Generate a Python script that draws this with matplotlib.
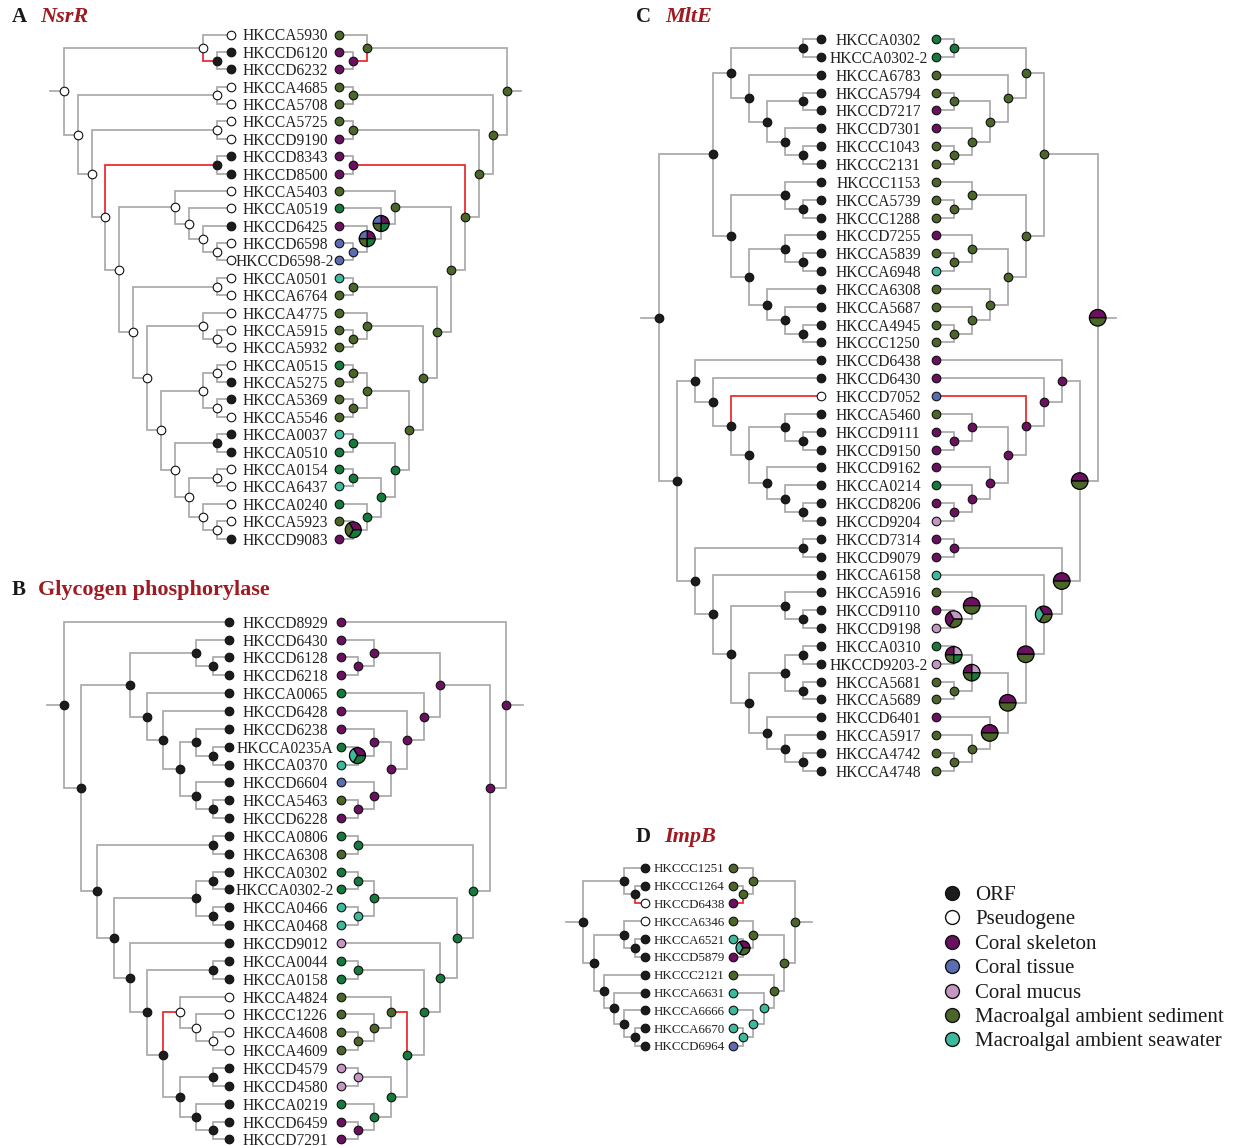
import matplotlib
matplotlib.use('Agg')
import matplotlib.pyplot as plt
from matplotlib.patches import Wedge

# ---------------- data ----------------
HAB_COLORS = {'S': '#6b0f5f', 'T': '#5c6cb2', 'M': '#c596c4',
              'D': '#4b6629', 'W': '#3dba9c', 'G': '#157a3b'}
ORF_COLORS = {'f': '#1c1c1c', 'o': 'white'}

LEGEND_LABELS = ['ORF', 'Pseudogene', 'Coral skeleton', 'Coral tissue',
                 'Coral mucus', 'Macroalgal ambient sediment',
                 'Macroalgal ambient seawater']
LEGEND_COLORS = ['#1c1c1c', 'white', '#6b0f5f', '#5c6cb2', '#c596c4',
                 '#4b6629', '#3dba9c']

# Panel A: NsrR
A_LEAVES = ['HKCCA5930', 'HKCCD6120', 'HKCCD6232', 'HKCCA4685', 'HKCCA5708',
            'HKCCA5725', 'HKCCD9190', 'HKCCD8343', 'HKCCD8500', 'HKCCA5403',
            'HKCCA0519', 'HKCCD6425', 'HKCCD6598', 'HKCCD6598-2', 'HKCCA0501',
            'HKCCA6764', 'HKCCA4775', 'HKCCA5915', 'HKCCA5932', 'HKCCA0515',
            'HKCCA5275', 'HKCCA5369', 'HKCCA5546', 'HKCCA0037', 'HKCCA0510',
            'HKCCA0154', 'HKCCA6437', 'HKCCA0240', 'HKCCA5923', 'HKCCD9083']
A_ORF = list('offooooffoofooo' + 'oooooffoffoooof')
A_HAB = ['D', 'S', 'S', 'D', 'D', 'D', 'S', 'S', 'S', 'D', 'G', 'S', 'T', 'T', 'W',
         'D', 'D', 'D', 'D', 'G', 'D', 'D', 'D', 'W', 'G', 'G', 'W', 'G', 'D', 'S']
A_TREE = ("((0,(1,2)*fS)oD,((3,4)oD,((5,6)oD,((7,8)*fS,((9,(10,(11,(12,13)oT)"
          "oS+T+D+G)oS+T+D+G)oD,((14,15)oD,((16,(17,18)oD)oD,(((19,20)oD,(21,22)oD)oD,"
          "((23,24)fG,((25,26)oG,(27,(28,29)oS+D+G)oG)oG)oG)oD)oD)oD)oD)oD)oD)oD)oD")

# Panel B: Glycogen phosphorylase
B_LEAVES = ['HKCCD8929', 'HKCCD6430', 'HKCCD6128', 'HKCCD6218', 'HKCCA0065',
            'HKCCD6428', 'HKCCD6238', 'HKCCA0235A', 'HKCCA0370', 'HKCCD6604',
            'HKCCA5463', 'HKCCD6228', 'HKCCA0806', 'HKCCA6308', 'HKCCA0302',
            'HKCCA0302-2', 'HKCCA0466', 'HKCCA0468', 'HKCCD9012', 'HKCCA0044',
            'HKCCA0158', 'HKCCA4824', 'HKCCC1226', 'HKCCA4608', 'HKCCA4609',
            'HKCCD4579', 'HKCCD4580', 'HKCCA0219', 'HKCCD6459', 'HKCCD7291']
B_ORF = list('fffffffffffffffffffff' + 'oooo' + 'fffff')
B_HAB = ['S', 'S', 'S', 'S', 'G', 'S', 'S', 'G', 'W', 'T', 'D', 'S', 'G', 'D', 'G',
         'G', 'W', 'W', 'M', 'G', 'G', 'D', 'D', 'D', 'D', 'M', 'M', 'G', 'S', 'S']
B_TREE = ("(0,(((1,(2,3)fS)fS,(4,(5,((6,(7,8)fS+W+G)fS,(9,(10,11)fS)fS)fS)fS)fS)fS,"
          "((12,13)fG,(((14,15)fG,(16,17)fW)fG,(18,((19,20)fG,((21,(22,(23,24)oD)oD)*oD,"
          "((25,26)fM,(27,(28,29)fS)fG)fG)fG)fG)fG)fG)fG)fS)fS")

# Panel C: MltE
C_LEAVES = ['HKCCA0302', 'HKCCA0302-2', 'HKCCA6783', 'HKCCA5794', 'HKCCD7217',
            'HKCCD7301', 'HKCCC1043', 'HKCCC2131', 'HKCCC1153', 'HKCCA5739',
            'HKCCC1288', 'HKCCD7255', 'HKCCA5839', 'HKCCA6948', 'HKCCA6308',
            'HKCCA5687', 'HKCCA4945', 'HKCCC1250', 'HKCCD6438', 'HKCCD6430',
            'HKCCD7052', 'HKCCA5460', 'HKCCD9111', 'HKCCD9150', 'HKCCD9162',
            'HKCCA0214', 'HKCCD8206', 'HKCCD9204', 'HKCCD7314', 'HKCCD9079',
            'HKCCA6158', 'HKCCA5916', 'HKCCD9110', 'HKCCD9198', 'HKCCA0310',
            'HKCCD9203-2', 'HKCCA5681', 'HKCCA5689', 'HKCCD6401', 'HKCCA5917',
            'HKCCA4742', 'HKCCA4748']
C_ORF = list('f' * 20 + 'o' + 'f' * 21)
C_HAB = ['G', 'G', 'D', 'D', 'S', 'S', 'D', 'D', 'D', 'D', 'D', 'S', 'D', 'W',
         'D', 'D', 'D', 'D', 'S', 'S', 'T', 'D', 'S', 'S', 'S', 'G', 'S', 'M',
         'S', 'S', 'W', 'D', 'S', 'M', 'G', 'M', 'D', 'D', 'S', 'D', 'D', 'D']
C_TREE = ("((((0,1)fG,(2,((3,4)fD,(5,(6,7)fD)fD)fD)fD)fD,((8,(9,10)fD)fD,((11,(12,13)fD)fD,"
          "(14,(15,(16,17)fD)fD)fD)fD)fD)fD,((18,(19,(20*,((21,(22,23)fS)fS,(24,(25,(26,27)fS)"
          "fS)fS)fS)fS)fS)fS,((28,29)fS,(30,((31,(32,33)fM+S+D)fS+D,(((34,35)fM+S+D+G,(36,37)fD)"
          "fM+S+D+G,(38,(39,(40,41)fD)fD)fS+D)fS+D)fS+D)fS+W+D)fS+D)fS+D)fS+D")

# Panel D: ImpB
D_LEAVES = ['HKCCC1251', 'HKCCC1264', 'HKCCD6438', 'HKCCA6346', 'HKCCA6521',
            'HKCCD5879', 'HKCCC2121', 'HKCCA6631', 'HKCCA6666', 'HKCCA6670',
            'HKCCD6964']
D_ORF = ['f', 'f', 'o', 'o', 'f', 'f', 'f', 'f', 'f', 'f', 'f']
D_HAB = ['D', 'D', 'S', 'D', 'W', 'S', 'D', 'W', 'W', 'W', 'T']
D_TREE = "((0,(1,2*)fD)fD,((3,(4,5)fS+W+D)fD,(6,(7,(8,(9,10)fW)fW)fW)fD)fD)fD"

TITLES = [('A', 'NsrR', True), ('B', 'Glycogen phosphorylase', False),
          ('C', 'MltE', True), ('D', 'ImpB', True)]

# ---------------- helpers ----------------
FONT = 'Liberation Serif'
GRAY = '#a9a9a9'
RED = '#e8262c'


def parse(s):
    pos = 0

    def label():
        nonlocal pos
        st = pos
        while pos < len(s) and s[pos] not in ',()':
            pos += 1
        return s[st:pos]

    def node():
        nonlocal pos
        if s[pos] == '(':
            pos += 1
            kids = [node()]
            while s[pos] == ',':
                pos += 1
                kids.append(node())
            pos += 1  # ')'
            lab = label()
            red = lab.startswith('*')
            lab = lab.lstrip('*')
            return {'kids': kids, 'orf': lab[0], 'hab': lab[1:].split('+'), 'red': red}
        lab = label()
        return {'kids': [], 'leaf': int(lab.rstrip('*')), 'red': lab.endswith('*')}
    return node()


def layout(n, y0, dy):
    if not n['kids']:
        n['h'] = 0
        n['y'] = y0 + n['leaf'] * dy
        return
    for k in n['kids']:
        layout(k, y0, dy)
    n['h'] = 1 + max(k['h'] for k in n['kids'])
    n['y'] = sum(k['y'] for k in n['kids']) / len(n['kids'])


def walk(n):
    yield n
    for k in n['kids']:
        yield from walk(k)


def draw_pie(ax, x, y, r, codes):
    k = len(codes)
    for i, c in enumerate(codes):
        v1, v2 = 360 * i / k, 360 * (i + 1) / k
        ax.add_patch(Wedge((x, y), r, -v2, -v1, facecolor=HAB_COLORS[c],
                           edgecolor='black', lw=0.9, zorder=6))


def draw_panel(ax, tree, leaves, orf, hab, xl, xr, step, y0, dy, stub, pr, fs):
    root = parse(tree)
    layout(root, y0, dy)
    xc = (xl + xr) / 2
    for side in (-1, 1):
        base = xl if side < 0 else xr

        def X(n):
            return base + side * n['h'] * step
        for n in walk(root):
            for k in n['kids']:
                col = RED if k['red'] else GRAY
                z = 2 if k['red'] else 1
                ax.plot([X(n), X(n), X(k)], [n['y'], k['y'], k['y']], color=col,
                        lw=1.25, solid_joinstyle='miter', zorder=z)
        ax.plot([X(root), X(root) + side * stub], [root['y'], root['y']],
                color=GRAY, lw=1.25, zorder=1)
        for n in walk(root):
            x, y = X(n), n['y']
            if side < 0:
                st = orf[n['leaf']] if not n['kids'] else n['orf']
                ax.plot(x, y, 'o', ms=6.2, mfc=ORF_COLORS[st], mec='#111111',
                        mew=0.8, zorder=5)
            else:
                codes = [hab[n['leaf']]] if not n['kids'] else n['hab']
                if len(codes) == 1:
                    ax.plot(x, y, 'o', ms=6.2, mfc=HAB_COLORS[codes[0]],
                            mec='#111111', mew=0.8, zorder=5)
                else:
                    draw_pie(ax, x, y, pr, codes)
    for i, name in enumerate(leaves):
        ax.text(xc, y0 + i * dy, name, ha='center', va='center_baseline',
                fontsize=fs, family=FONT, color='#222222', zorder=7)


# ---------------- figure ----------------
W, H = 1234, 1146
fig = plt.figure(figsize=(W / 100, H / 100), dpi=100)
ax = fig.add_axes([0, 0, 1, 1])
ax.set_xlim(0, W)
ax.set_ylim(H, 0)
ax.axis('off')

draw_panel(ax, A_TREE, A_LEAVES, A_ORF, A_HAB, 231, 339.3, 13.95, 34.5, 17.38, 14, 8, 11.2)
draw_panel(ax, B_TREE, B_LEAVES, B_ORF, B_HAB, 229.3, 341, 16.5, 621.7, 17.85, 17, 8, 11.2)
draw_panel(ax, C_TREE, C_LEAVES, C_ORF, C_HAB, 821, 935.7, 18, 39, 17.85, 18, 8.3, 11.2)
draw_panel(ax, D_TREE, D_LEAVES, D_ORF, D_HAB, 645, 732.7, 10.3, 867.7, 17.83, 17, 7, 9.4)

title_pos = [(12, 40, 17), (12, 38, 590), (636, 665, 17), (636, 664, 837)]
for (letter, gene, ital), (xa, xg, yt) in zip(TITLES, title_pos):
    ax.text(xa, yt, letter, ha='left', va='center', fontsize=15, family=FONT,
            fontweight='bold', color='#1a1a1a')
    ax.text(xg, yt, gene, ha='left', va='center', fontsize=16, family=FONT,
            fontweight='bold', style='italic' if ital else 'normal', color='#9e1b22')

for i, (lab, col) in enumerate(zip(LEGEND_LABELS, LEGEND_COLORS)):
    y = 893 + i * 24.4
    ax.plot(952, y, 'o', ms=10, mfc=col, mec='#111111', mew=1.0)
    ax.text(975, y, lab, ha='left', va='center_baseline', fontsize=15, family=FONT,
            color='#1a1a1a')

fig.savefig('out.png', dpi=100)
